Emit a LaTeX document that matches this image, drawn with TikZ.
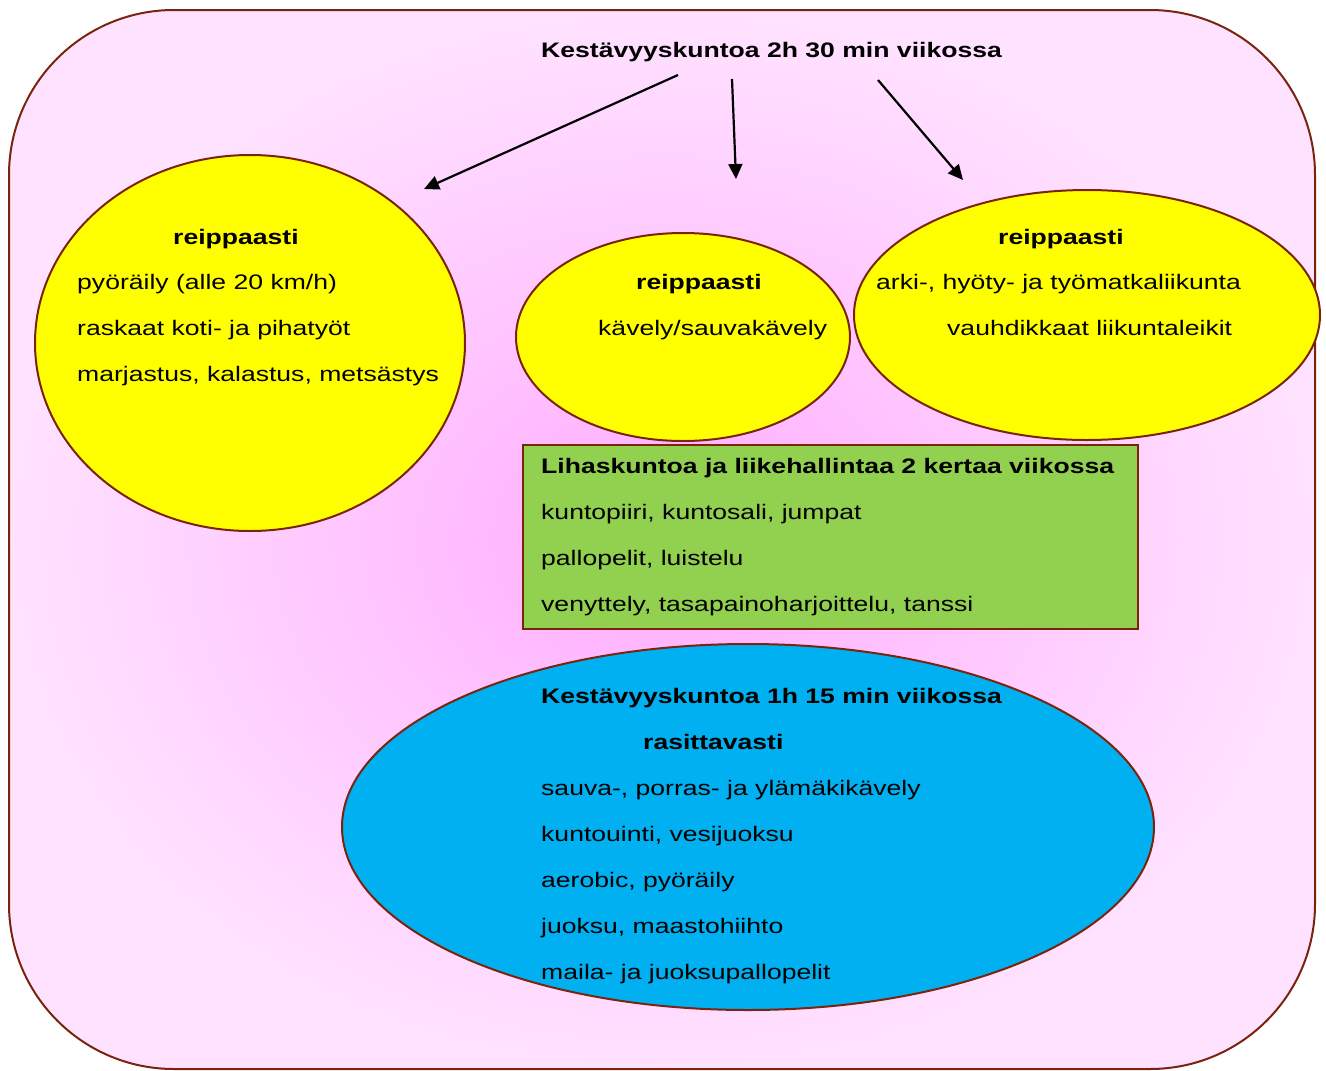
\documentclass[tikz,border=0pt]{standalone}
\usepackage{fontspec}
\setmainfont{Liberation Sans}[FakeStretch=1.265]
\usetikzlibrary{shapes.geometric,arrows.meta}
\definecolor{frameline}{RGB}{122,36,14}
\definecolor{pinkin}{RGB}{255,172,255}
\definecolor{pinkout}{RGB}{255,226,255}
\definecolor{ylw}{RGB}{255,255,0}
\definecolor{grn}{RGB}{146,208,80}
\definecolor{blu}{RGB}{0,176,240}
\begin{document}
\begin{tikzpicture}[x=1pt,y=-1pt,
  txt/.style={anchor=base west, inner sep=0pt, font=\fontsize{21}{25}\selectfont},
  btxt/.style={anchor=base west, inner sep=0pt, font=\fontsize{21}{25}\selectfont\bfseries},
  shapeline/.style={draw=frameline, line width=2pt},
  blob/.style={ellipse, shapeline, inner sep=0pt},
  arr/.style={line width=2.2pt, -{Triangle[length=15pt,width=14pt]}}]
\useasboundingbox (0,0) rectangle (1326,1071);
% outer frame
\node[rectangle, rounded corners=165pt, shapeline, inner color=pinkin, outer color=pinkout,
      minimum width=1306pt, minimum height=1059pt, inner sep=0pt] (frame) at (662,539.5) {};
% shapes
\node[blob, fill=ylw, minimum width=430pt, minimum height=376pt] (left) at (250,343) {};
\node[blob, fill=ylw, minimum width=334pt, minimum height=208pt] (mid) at (683,337) {};
\node[blob, fill=ylw, minimum width=466pt, minimum height=250pt] (right) at (1087,315) {};
\node[rectangle, shapeline, fill=grn, minimum width=615pt, minimum height=184pt, inner sep=0pt] (box) at (830.5,537) {};
\node[blob, fill=blu, minimum width=812pt, minimum height=366pt] (low) at (748,827) {};
% title
\node[btxt] (title) at (541,57) {Kestävyyskuntoa 2h 30 min viikossa};
% arrows
\coordinate (a1s) at (678,75);  \coordinate (a1e) at (424,189);
\coordinate (a2s) at (732,79);  \coordinate (a2e) at (736,179);
\coordinate (a3s) at (878,80);  \coordinate (a3e) at (963,180);
\draw[arr] (a1s) -- (a1e);
\draw[arr] (a2s) -- (a2e);
\draw[arr] (a3s) -- (a3e);
% left ellipse text
\node[btxt] (l0) at (173,244) {reippaasti};
\node[txt] (l1) at (77,289) {pyöräily (alle 20 km/h)};
\node[txt] (l2) at (77,335) {raskaat koti- ja pihatyöt};
\node[txt] (l3) at (77,381) {marjastus, kalastus, metsästys};
% middle ellipse text
\node[btxt] (m0) at (636,289) {reippaasti};
\node[txt] (m1) at (598,335) {kävely/sauvakävely};
% right ellipse text
\node[btxt] (r0) at (998,244) {reippaasti};
\node[txt] (r1) at (876,289) {arki-, hyöty- ja työmatkaliikunta};
\node[txt] (r2) at (947,335) {vauhdikkaat liikuntaleikit};
% green box text
\node[btxt] (g0) at (541,473) {Lihaskuntoa ja liikehallintaa 2 kertaa viikossa};
\node[txt] (g1) at (541,519) {kuntopiiri, kuntosali, jumpat};
\node[txt] (g2) at (541,565) {pallopelit, luistelu};
\node[txt] (g3) at (541,611) {venyttely, tasapainoharjoittelu, tanssi};
% blue ellipse text
\node[btxt] (b0) at (541,703) {Kestävyyskuntoa 1h 15 min viikossa};
\node[btxt] (b1) at (643,749) {rasittavasti};
\node[txt] (b2) at (541,795) {sauva-, porras- ja ylämäkikävely};
\node[txt] (b3) at (541,841) {kuntouinti, vesijuoksu};
\node[txt] (b4) at (541,887) {aerobic, pyöräily};
\node[txt] (b5) at (541,933) {juoksu, maastohiihto};
\node[txt] (b6) at (541,979) {maila- ja juoksupallopelit};
\end{tikzpicture}
\end{document}
